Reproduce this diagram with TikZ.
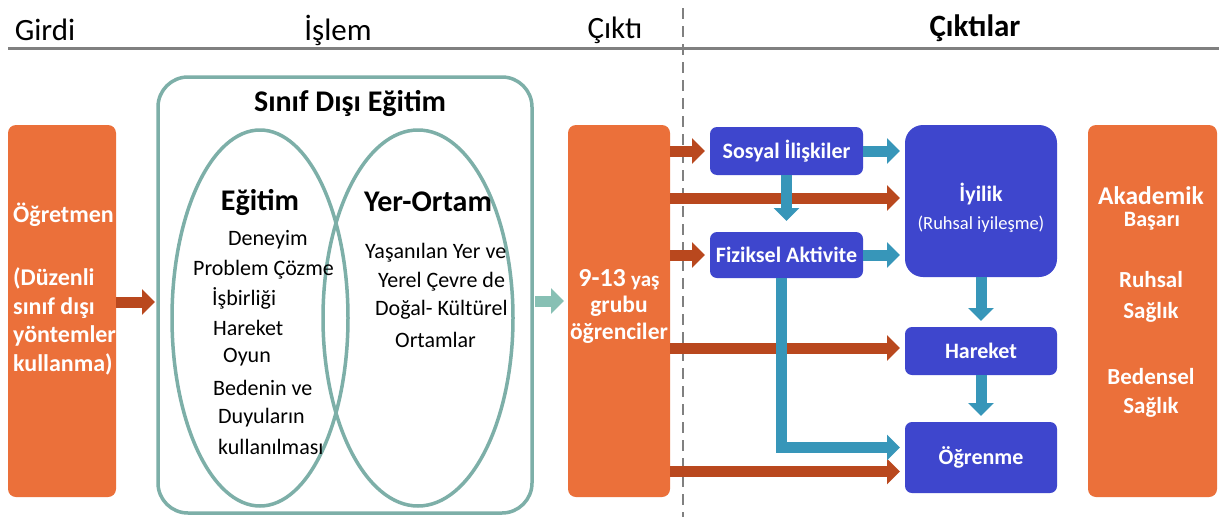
\documentclass[tikz,border=0pt]{standalone}
\usepackage{fontspec}
\setmainfont{Carlito}
\usetikzlibrary{arrows.meta,calc,shapes.geometric}
\definecolor{orbox}{RGB}{235,112,58}
\definecolor{brn}{RGB}{185,72,30}
\definecolor{tealarr}{RGB}{55,150,185}
\definecolor{ltteal}{RGB}{135,192,180}
\definecolor{frm}{RGB}{125,175,168}
\definecolor{blu}{RGB}{62,70,205}
\definecolor{gline}{RGB}{128,128,128}
\tikzset{
  obox/.style={fill=orbox, draw=none, rounded corners=8pt, inner sep=0pt, outer sep=0pt},
  bbox/.style={fill=blu, draw=none, rounded corners=7pt, inner sep=0pt, outer sep=0pt, text=white, font=\fontsize{22}{26}\selectfont\bfseries},
  wtxt/.style={text=white, font=\fontsize{24}{28.5}\selectfont\bfseries, inner sep=0pt},
  rtxt/.style={text=white, font=\fontsize{23}{26}\selectfont\bfseries, inner sep=0pt},
  body/.style={font=\fontsize{22}{29}\selectfont, inner sep=0pt, anchor=west},
  ttl/.style={font=\fontsize{30}{34}\selectfont\bfseries, inner sep=0pt},
  hdr/.style={font=\fontsize{31}{34}\selectfont, inner sep=0pt},
  ell/.style={ellipse, draw=frm, line width=3.5pt, inner sep=0pt, outer sep=0pt},
  arr/.style={line width=11pt, -{Triangle[length=13pt,width=25pt]}},
  brarr/.style={arr, draw=brn},
  tlarr/.style={arr, draw=tealarr},
  ltarr/.style={arr, draw=ltteal},
}
\begin{document}
\begin{tikzpicture}[x=1pt,y=-1pt]
\useasboundingbox (0,0) rectangle (1219,517);
\fill[white] (0,0) rectangle (1219,517);
% headers
\node[hdr] (h1) at (45,30) {Girdi};
\node[hdr] (h2) at (338,30) {İşlem};
\node[hdr] (h3) at (615,30) {Çıktı};
\node[hdr, font=\fontsize{31}{34}\selectfont\bfseries] (h4) at (975,28) {Çıktılar};
\coordinate (hl1) at (8,48);
\coordinate (hl2) at (1219,48);
\draw[gline, line width=3pt] (hl1) -- (hl2);
\coordinate (dv1) at (683,8);
\coordinate (dv2) at (683,517);
\draw[gline, line width=2.5pt, dash pattern=on 11pt off 7pt] (dv1) -- (dv2);
% left box
\node[obox, minimum width=108pt, minimum height=372pt] (tch) at (62,311) {};
\node[wtxt, align=left, anchor=west] (tcht) at (13,289) {Öğretmen\\[34.5pt](Düzenli\\sınıf dışı\\yöntemler\\kullanma)};
% frame
\node[draw=frm, line width=3.5pt, rounded corners=30pt, minimum width=374pt, minimum height=436pt, inner sep=0pt, outer sep=0pt] (sde) at (345,295) {};
\node[ttl] (sdet) at (350,103) {Sınıf Dışı Eğitim};
\node[ell, minimum width=176pt, minimum height=376pt] (e1) at (260,318) {};
\node[ell, minimum width=190pt, minimum height=376pt] (e2) at (418,318) {};
\node[ttl] (egt) at (260,202) {Eğitim};
\node[ttl] (yer) at (428,202) {Yer-Ortam};
\node[body] (l1) at (228,240) {Deneyim};
\node[body] (l2) at (193,270) {Problem Çözme};
\node[body] (l3) at (212,298) {İşbirliği};
\node[body] (l4) at (213,328) {Hareket};
\node[body] (l5) at (223,357) {Oyun};
\node[body] (l6) at (213,388) {Bedenin ve};
\node[body] (l7) at (218,418) {Duyuların};
\node[body] (l8) at (218,447) {kullanılması};
\node[body] (r1) at (365,253) {Yaşanılan Yer ve};
\node[body] (r2) at (378,282) {Yerel Çevre de};
\node[body] (r3) at (375,310) {Doğal- Kültürel};
\node[body] (r4) at (395,340) {Ortamlar};
% middle box
\node[obox, minimum width=102pt, minimum height=372pt] (mid) at (619,311) {};
\node[wtxt, align=center, font=\fontsize{23.5}{26.5}\selectfont\bfseries] (midt) at (619,306) {{\fontsize{26}{26.5}\selectfont 9-13} {\fontsize{21}{26.5}\selectfont yaş}\\grubu\\öğrenciler};
% blue boxes
\node[bbox, minimum width=153pt, minimum height=48pt] (sos) at (786.5,151) {Sosyal İlişkiler};
\node[bbox, minimum width=153pt, minimum height=46pt] (fiz) at (786.5,255) {Fiziksel Aktivite};
\node[bbox, rounded corners=18pt, minimum width=152pt, minimum height=152pt] (iyi) at (981,201) {};
\node[inner sep=0pt, text=white, align=center, font=\fontsize{18.5}{28}\selectfont] (iyit) at (981,208) {{\fontsize{22}{28}\selectfont\bfseries İyilik}\\(Ruhsal iyileşme)};
\node[bbox, minimum width=152pt, minimum height=48pt] (har) at (981,351) {Hareket};
\node[bbox, minimum width=152pt, minimum height=71pt] (ogr) at (981,457.5) {Öğrenme};
% right box
\node[obox, minimum width=129pt, minimum height=372pt] (res) at (1152.5,311) {};
\node[rtxt, font=\fontsize{25.5}{26}\selectfont\bfseries] (rt1) at (1151,196) {Akademik};
\node[rtxt, font=\fontsize{22}{26}\selectfont\bfseries] (rt2) at (1152,221) {Başarı};
\node[rtxt] (rt3) at (1151,280) {Ruhsal};
\node[rtxt] (rt4) at (1151,312) {Sağlık};
\node[rtxt] (rt5) at (1151,377) {Bedensel};
\node[rtxt] (rt6) at (1151,407) {Sağlık};
% arrows
\draw[brarr, shorten >=3pt] ($(tch.east)+(0,-9)$) -- ($(tch.east -| sde.west)+(0,-9)$);
\draw[ltarr, shorten <=3pt, shorten >=4pt] ($(sde.east |- mid.west)+(0,-10)$) -- ($(mid.west)+(0,-10)$);
\draw[brarr, shorten >=5pt] (mid.east |- sos.west) -- (sos.west);
\draw[brarr, shorten >=5pt] ($(mid.east |- iyi.west)+(0,-3)$) -- ($(iyi.west)+(0,-3)$);
\draw[brarr, shorten >=5pt] (mid.east |- fiz.west) -- (fiz.west);
\draw[brarr, shorten >=5pt] ($(mid.east |- har.west)+(0,-3)$) -- ($(har.west)+(0,-3)$);
\draw[brarr, shorten >=5pt] ($(mid.east |- ogr.west)+(0,14)$) -- ($(ogr.west)+(0,14)$);
\draw[tlarr, shorten >=5pt] (sos.east) -- (sos.east -| iyi.west);
\draw[tlarr, shorten >=5pt] (fiz.east) -- (fiz.east -| iyi.west);
\draw[tlarr, shorten >=11pt] (sos.south) -- (fiz.north);
\draw[tlarr, shorten >=5pt, line join=miter] ($(fiz.south)+(-5,0)$) |- ($(ogr.west)+(0,-10)$);
\draw[tlarr, shorten >=6pt] (iyi.south) -- (har.north);
\draw[tlarr, shorten >=6pt] (har.south) -- (ogr.north);
\end{tikzpicture}
\end{document}
